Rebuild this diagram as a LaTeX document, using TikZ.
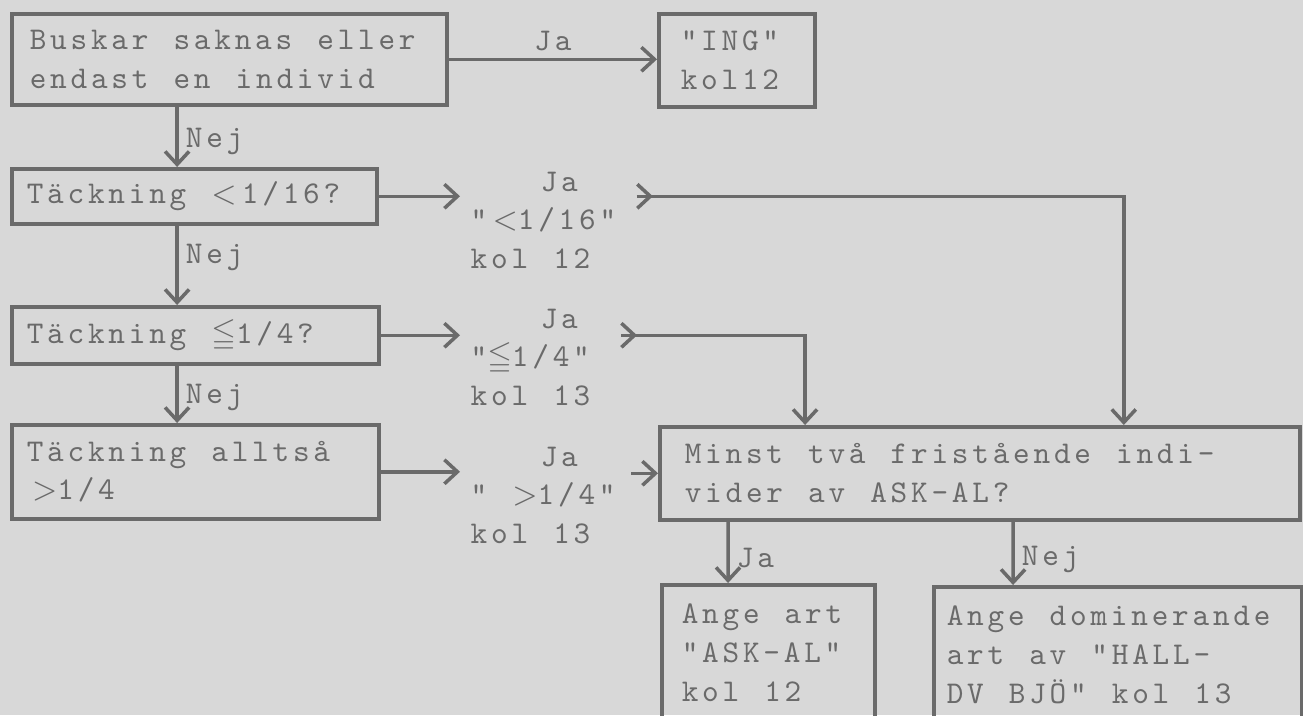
\documentclass[tikz,border=0pt]{standalone}
\usepackage{amsmath,amssymb}
\usepackage{fontspec}
\setmonofont{lmmono10-regular.otf}[LetterSpace=12, WordSpace={1.23,0,0}]
\usepackage{xcolor}
\usepackage{tikz}
\usetikzlibrary{arrows.meta,positioning,calc}

\definecolor{paper}{RGB}{216,216,216}
\definecolor{ink}{RGB}{106,106,106}

\begin{document}
\begin{tikzpicture}[
  x=0.01cm, y=-0.01cm,
  >={Straight Barb[length=1.3mm,width=2.4mm]},
  every node/.style={font=\fontsize{9}{11}\selectfont\ttfamily, text=ink},
  box/.style={draw=ink, line width=1pt, align=left, anchor=north west, inner ysep=0.5mm,
    execute at begin node={\spaceskip=0pt\xspaceskip=0pt\relax}},
  note/.style={align=left, anchor=north west, inner xsep=1mm, inner ysep=0pt},
  lbl/.style={inner sep=2pt},
  conn/.style={draw=ink, line width=1pt, ->}
]
  \useasboundingbox (0,0) rectangle (1303,715);
  \fill[paper] (0,0) rectangle (1303,715);
  \clip (0,0) rectangle (1303,715);

  % left column of questions
  \node[box, text width=3.99cm, inner xsep=1.8mm, minimum height=0.91cm] (busk) at (10,12) {Buskar saknas eller\\endast en individ};
  \node[box, text width=1.12cm, inner xsep=2.2mm, minimum height=0.93cm] (ing) at (657,12) {"ING"\\kol12};
  \node[box, text width=3.35cm, inner xsep=1.5mm, minimum height=0.55cm] (tk1) at (10,167) {Täckning $<$\,1/16?};
  \node[box, text width=3.37cm, inner xsep=1.5mm, minimum height=0.57cm] (tk2) at (10,305) {Täckning $\leqq$1/4?};
  \node[box, text width=3.37cm, inner xsep=1.5mm, minimum height=0.94cm] (tk3) at (10,423) {Täckning alltså\\\,$>$1/4};

  % answers in the middle
  \node[note] (ja1) at (460,171) {\hspace*{0.7cm}Ja\\"\,$<$1/16"\\kol 12};
  \node[note] (ja2) at (460,308) {\hspace*{0.7cm}Ja\\"$\leqq$1/4"\\kol 13};
  \node[note] (ja3) at (460,446) {\hspace*{0.7cm}Ja\\" $>$1/4"\\kol 13};

  % species question and its two outcomes
  \node[box, text width=5.90cm, inner xsep=2.5mm, minimum height=0.93cm] (minst) at (658,425) {Minst två fristående indi-\\vider av ASK-AL?};
  \node[box, text width=1.73cm, inner xsep=2mm, minimum height=1.36cm] (art) at (660,583) {Ange art\\"ASK-AL"\\kol 12};
  \node[box, text width=3.42cm, inner xsep=1.3mm, minimum height=1.36cm] (dom) at (932,585) {Ange dominerande\\art av "HALL-\\DV BJÖ" kol 13};

  \draw[conn] (busk.east) -- node[above, lbl] {Ja} (busk.east -| ing.west);
  \foreach \a/\b/\p in {busk/tk1/0.58, tk1/tk2/0.4, tk2/tk3/0.56}
    \draw[conn] ([xshift=1.67cm]\a.south west) -- node[right, lbl, pos=\p] {Nej} ([xshift=1.67cm]\b.north west);

  \draw[conn] (tk1.east) -- (tk1.east -| ja1.west);
  \draw[conn] (tk2.east) -- (tk2.east -| ja2.west);
  \draw[conn] (tk3.east) -- (tk3.east -| ja3.west);

  % the typed arrows sit just after the start of the line
  \draw[conn] ([xshift=1mm]ja1.east |- tk1.east) coordinate (o1) -| ([xshift=-1.78cm]minst.north east);
  \draw[conn] (o1) -- ++(16,0);
  \draw[conn] ([xshift=2mm]ja2.east |- tk2.east) coordinate (o2) -| ([xshift=1.47cm]minst.north west);
  \draw[conn] (o2) -- ++(16,0);
  \draw[conn] ([xshift=0.5mm]ja3.east |- minst.west) -- (minst.west);

  \draw[conn] ([xshift=0.70cm]minst.south west) -- node[right, lbl, pos=0.6] {Ja} ([xshift=0.68cm]art.north west);
  \draw[conn] ([xshift=3.55cm]minst.south west) -- node[right, lbl, pos=0.6] {Nej} ([xshift=0.81cm]dom.north west);
\end{tikzpicture}
\end{document}
